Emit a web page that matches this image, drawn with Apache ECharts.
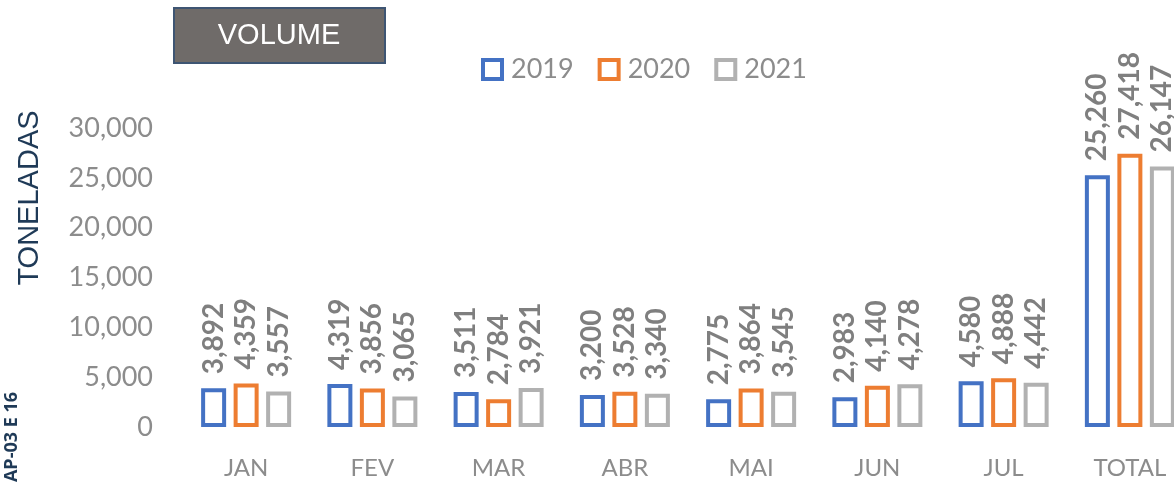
<!DOCTYPE html>
<html>
<head>
<meta charset="utf-8">
<style>
  html, body { margin: 0; padding: 0; background: #fff; }
  #chart { width: 1174px; height: 483px; }
</style>
<script src="https://cdn.jsdelivr.net/npm/echarts@6/dist/echarts.min.js"></script>
</head>
<body>
<div id="chart"></div>
<script>
const categories = ['JAN', 'FEV', 'MAR', 'ABR', 'MAI', 'JUN', 'JUL', 'TOTAL']
const data2019 = [3892, 4319, 3511, 3200, 2775, 2983, 4580, 25260]
const data2020 = [4359, 3856, 2784, 3528, 3864, 4140, 4888, 27418]
const data2021 = [3557, 3065, 3921, 3340, 3545, 4278, 4442, 26147]
const seriesNames = ['2019', '2020', '2021']
const seriesColors = ['#4472C4', '#ED7D31', '#B1B1B1']

const fmt = v => v.toLocaleString('en-US')

function makeSeries(name, data, color) {
  return {
    name: name,
    type: 'bar',
    barWidth: 25,
    barGap: '30%',
    data: data,
    itemStyle: { color: '#fff', borderColor: color, borderWidth: 4 },
    label: {
      show: true,
      position: 'top',
      rotate: 90,
      align: 'left',
      verticalAlign: 'middle',
      distance: 14,
      color: '#7F7F7F',
      fontFamily: 'Lato',
      fontWeight: 'bold',
      fontSize: 28,
      formatter: p => fmt(p.value)
    }
  }
}

const chart = echarts.init(document.getElementById('chart'))
chart.setOption({
  animation: false,
  // grid runs past the right edge so the TOTAL group is cut off like the original
  grid: { left: 183, right: -19, top: 128, bottom: 56, outerBoundsMode: 'none', containLabel: false },
  legend: {
    data: seriesNames,
    left: 476, top: 51,
    icon: 'rect',
    itemWidth: 19, itemHeight: 19,
    itemGap: 24,
    itemStyle: { borderWidth: 4 },
    textStyle: { color: '#8C8C8C', fontSize: 27, fontFamily: 'Lato', padding: [0, 0, 0, 4] }
  },
  xAxis: {
    type: 'category',
    data: categories,
    axisLine: { show: false },
    axisTick: { show: false },
    axisLabel: { color: '#8C8C8C', fontSize: 24, fontFamily: 'Lato', margin: 29 }
  },
  yAxis: {
    type: 'value',
    min: 0, max: 30000, interval: 5000,
    splitLine: { show: false },
    axisLine: { show: false },
    axisTick: { show: false },
    axisLabel: { color: '#8C8C8C', fontSize: 27, fontFamily: 'Lato', margin: 30, formatter: v => fmt(v) }
  },
  graphic: [
    {
      type: 'rect', left: 173, top: 7,
      shape: { width: 211, height: 55 },
      style: { fill: '#6F6B69', stroke: '#3E5573', lineWidth: 2 }
    },
    {
      type: 'text', x: 279, y: 36,
      style: { text: 'VOLUME', fill: '#fff', font: '29px "Liberation Sans"', align: 'center', verticalAlign: 'middle' }
    },
    {
      type: 'text', x: 30, y: 198, rotation: Math.PI / 2,
      style: { text: 'TONELADAS', fill: '#1F3A57', font: '29px "Liberation Sans"', align: 'center', verticalAlign: 'middle' }
    },
    {
      type: 'text', x: 12, y: 437, rotation: Math.PI / 2,
      style: { text: 'AP-03 E 16', fill: '#1F3A57', font: 'bold 18px "Open Sans"', align: 'center', verticalAlign: 'middle' }
    }
  ],
  series: [
    makeSeries(seriesNames[0], data2019, seriesColors[0]),
    makeSeries(seriesNames[1], data2020, seriesColors[1]),
    makeSeries(seriesNames[2], data2021, seriesColors[2])
  ]
})
</script>
</body>
</html>
